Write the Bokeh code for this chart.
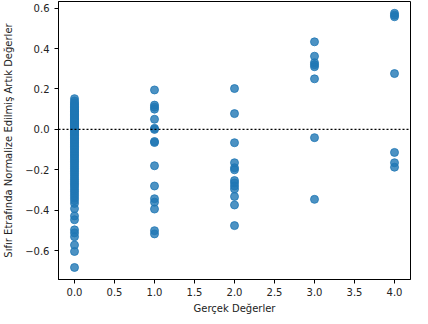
from bokeh.plotting import figure
from bokeh.models import FixedTicker, Span, Range1d
from bokeh.embed import file_html
from bokeh.resources import INLINE

# Residuals per true value
y_at_0 = [0.152, 0.14, 0.131, 0.125, 0.118, 0.112, 0.107, 0.101, 0.096, 0.09, 0.086, 0.081,
          0.075, 0.07, 0.066, 0.061, 0.055, 0.05, 0.046, 0.041, 0.036, 0.031, 0.027, 0.022,
          0.018, 0.013, 0.009, 0.004, 0.0, -0.004, -0.009, -0.015, -0.02, -0.026, -0.032,
          -0.038, -0.044, -0.05, -0.057, -0.063, -0.07, -0.076, -0.083, -0.09, -0.097, -0.104,
          -0.112, -0.119, -0.127, -0.134, -0.142, -0.15, -0.158, -0.166, -0.175, -0.183,
          -0.192, -0.201, -0.21, -0.219, -0.228, -0.238, -0.247, -0.256, -0.266, -0.275,
          -0.285, -0.296, -0.306, -0.317, -0.328, -0.34, -0.352, -0.366, -0.392, -0.428,
          -0.447, -0.497, -0.512, -0.531, -0.572, -0.604, -0.683]
y_at_1 = [0.195, 0.12, 0.11, 0.1, 0.05, 0.005, 0.0, -0.06, -0.065, -0.18, -0.28, -0.343,
          -0.36, -0.394, -0.501, -0.517]
y_at_2 = [0.202, 0.078, -0.066, -0.165, -0.19, -0.2, -0.253, -0.265, -0.28, -0.295, -0.332,
          -0.374, -0.476]
y_at_3 = [0.433, 0.362, 0.33, 0.32, 0.31, 0.25, -0.041, -0.346]
y_at_4 = [0.574, 0.565, 0.557, 0.276, -0.114, -0.165, -0.187]

x_ticks = [0.0, 0.5, 1.0, 1.5, 2.0, 2.5, 3.0, 3.5, 4.0]
y_ticks = [-0.6, -0.4, -0.2, 0.0, 0.2, 0.4, 0.6]

xs, ys = [], []
for xv, arr in [(0, y_at_0), (1, y_at_1), (2, y_at_2), (3, y_at_3), (4, y_at_4)]:
    xs += [xv] * len(arr)
    ys += arr

p = figure(width=412, height=316, output_backend="svg", toolbar_location=None,
           x_range=Range1d(-0.2, 4.2), y_range=Range1d(-0.7425, 0.6325),
           min_border_left=50, min_border_right=2, min_border_top=1, min_border_bottom=36)

p.scatter(xs, ys, size=8, fill_color="#1f77b4", line_color="#1f77b4", fill_alpha=0.8,
          line_alpha=0.8)

p.add_layout(Span(location=0, dimension="width", line_color="black", line_dash="2 2",
                  line_width=1.3))

p.xgrid.visible = False
p.ygrid.visible = False
p.outline_line_color = "black"
p.outline_line_width = 1

font = "DejaVu Sans"
for ax in (p.xaxis[0], p.yaxis[0]):
    ax.axis_line_color = "black"
    ax.major_tick_line_color = "black"
    ax.major_tick_out = 4
    ax.major_tick_in = 0
    ax.minor_tick_line_color = None
    ax.major_label_text_font = font
    ax.major_label_text_font_size = "10px"
    ax.major_label_text_color = "#222222"
    ax.axis_label_text_font = font
    ax.axis_label_text_font_size = "10px"
    ax.axis_label_text_font_style = "normal"
    ax.axis_label_text_color = "#222222"

p.xaxis.ticker = FixedTicker(ticks=x_ticks)
p.xaxis.major_label_overrides = {t: f"{t:.1f}" for t in x_ticks}
p.xaxis.major_label_standoff = 4
p.yaxis.ticker = FixedTicker(ticks=y_ticks)
p.yaxis.major_label_overrides = {t: f"{t:.1f}".replace("-", "\u2212") for t in y_ticks}
p.xaxis.axis_label = "Gerçek Değerler"
p.yaxis.axis_label = "Sıfır Etrafında Normalize Edilmiş Artık Değerler"
p.xaxis.axis_label_standoff = 4
p.yaxis.axis_label_standoff = 8

open("out.html", "w").write(file_html(p, INLINE))
